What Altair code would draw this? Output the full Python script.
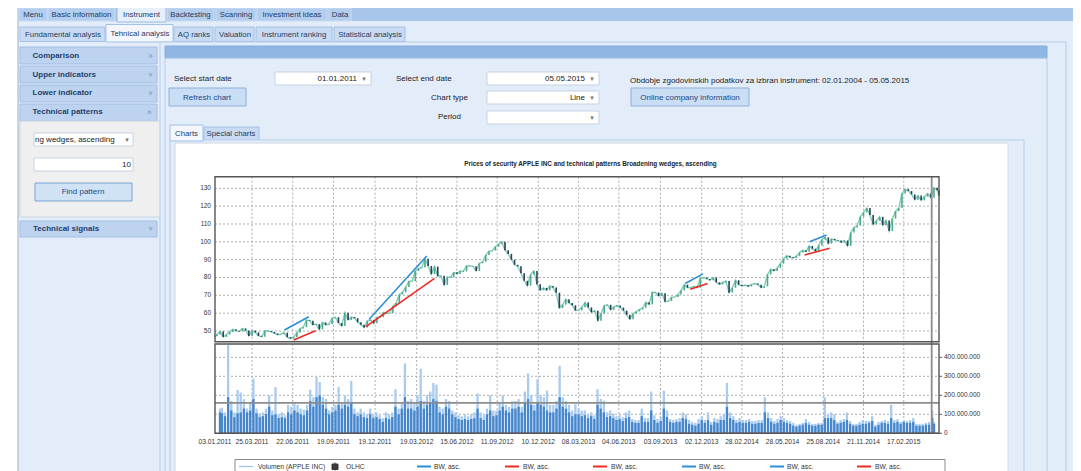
import altair as alt
import pandas as pd

M = 8  # page margin: screen pixel -> chart pixel

# ---------------- chart data ----------------
first_day, last_day = "2011-01-03", "2015-05-05"
first_close, last_close = 47.08, 125.80
close_2011 = [48.02, 49.78, 46.67, 48.01, 49.50, 50.98, 50.08, 49.74,
              51.43, 50.28, 47.24, 50.22, 49.22, 47.26, 46.79, 50.10, 50.01,
              49.52, 48.64, 47.89, 48.20, 49.06, 46.56, 45.75, 46.62,
              49.04, 51.39, 52.13, 56.19, 55.78, 53.37, 53.86, 50.86, 54.80,
              53.44, 53.93, 57.21, 57.71, 54.47, 52.83, 60.29, 56.12, 57.85,
              57.18, 54.95, 53.56, 51.94, 55.67, 56.23, 54.29, 57.63, 57.86]
close_2012 = [60.34, 59.97, 60.04, 63.90, 65.67, 70.49, 71.73, 74.63,
              77.88, 77.88, 83.65, 85.15, 85.65, 90.53, 86.46, 81.85, 86.14,
              80.75, 80.96, 75.77, 80.33, 80.14, 82.90, 82.02, 83.68, 83.43,
              86.55, 86.42, 86.33, 83.59, 87.96, 88.81, 92.59, 94.75, 95.03,
              97.21, 98.75, 100.01, 95.30, 93.23, 89.96, 87.12, 86.29,
              82.40, 78.15, 75.38, 81.64, 83.61, 76.18, 72.83, 74.19, 72.80]
close_2013 = [75.29, 74.33, 71.43, 62.84, 64.80, 67.85, 65.74, 64.40,
              61.50, 61.67, 63.38, 65.99, 63.24, 60.46, 61.40, 55.79, 59.60,
              64.28, 64.71, 61.89, 63.59, 64.25, 63.12, 61.44, 59.07, 56.65,
              59.63, 60.93, 62.01, 63.00, 66.08, 64.92, 71.76, 71.57, 69.60,
              71.17, 66.41, 66.77, 68.96, 69.00, 70.40, 72.70, 75.99,
              74.29, 74.37, 75.00, 74.26, 79.44, 80.00, 79.20, 78.43, 80.01]
close_2014 = [77.28, 76.13, 77.24, 78.01, 71.51, 74.24, 78.44, 75.93, 75.18,
              75.78, 74.96, 76.12, 76.69, 75.97, 74.23, 74.99, 81.71,
              84.65, 83.65, 85.36, 87.73, 90.43, 92.22, 91.28, 90.91, 91.98,
              94.03, 95.22, 94.43, 97.67, 96.13, 94.74, 97.98, 101.32, 102.50,
              98.97, 101.66, 100.96, 100.75, 99.62, 100.73, 97.67, 105.22, 108.00,
              109.01, 114.18, 116.47, 118.93, 115.00, 109.73, 111.78, 113.99]
close_2015 = [109.33, 112.01, 105.99, 112.98, 117.16, 118.93, 127.08, 129.50, 128.46,
              126.60, 123.59, 125.90, 123.25, 125.32, 127.10, 124.75, 130.28, 128.95]

# weekly volume in millions: typical day (dark) and busiest day (light)
first_vol, first_peak = 110, 130
last_vol, last_peak = 50, 60
vol_2011 = [105, 90, 190, 120, 85, 105, 110, 130, 110, 120, 180, 105, 85, 90, 100, 140, 95,
            100, 80, 85, 80, 110, 100, 120, 110, 100, 95, 120, 170, 140, 190, 200, 150, 130,
            100, 110, 120, 150, 130, 150, 140, 160, 100, 90, 100, 85, 80, 100, 80, 85, 75, 60]
peak_2011 = [135, 110, 465, 170, 110, 228, 214, 180, 130, 160, 288, 130, 105, 110, 130, 200, 120,
             244, 100, 110, 95, 150, 140, 160, 150, 130, 125, 150, 230, 190, 298, 270, 190, 180,
             120, 140, 150, 244, 160, 200, 180, 276, 130, 110, 130, 110, 100, 130, 100, 110, 95, 80]
vol_2012 = [80, 75, 85, 140, 100, 130, 190, 130, 130, 120, 140, 170, 130, 150, 160, 180, 170,
            110, 100, 140, 130, 100, 85, 75, 70, 75, 70, 75, 80, 130, 80, 70, 100, 120, 90,
            95, 120, 140, 120, 110, 130, 130, 140, 110, 160, 180, 150, 120, 160, 150, 140, 120]
peak_2012 = [110, 100, 110, 232, 130, 160, 368, 170, 180, 160, 200, 340, 170, 200, 220, 265, 256,
             140, 130, 180, 170, 120, 110, 95, 90, 100, 90, 100, 110, 210, 110, 95, 130, 200, 120,
             120, 165, 200, 150, 140, 170, 170, 180, 140, 220, 315, 200, 150, 286, 200, 190, 224]
vol_2013 = [110, 110, 130, 190, 140, 130, 110, 90, 100, 100, 90, 95, 80, 90, 75, 150, 130,
            110, 85, 90, 80, 70, 75, 65, 80, 85, 60, 55, 55, 90, 60, 60, 120, 70, 55,
            65, 130, 85, 60, 55, 60, 60, 80, 75, 50, 45, 40, 50, 70, 55, 70, 45]
peak_2013 = [150, 150, 170, 355, 190, 170, 150, 120, 153, 130, 120, 120, 100, 110, 95, 232, 180,
             172, 110, 120, 105, 90, 95, 85, 110, 120, 75, 70, 70, 130, 80, 80, 220, 95, 75,
             85, 224, 120, 75, 70, 75, 80, 110, 100, 70, 60, 55, 75, 90, 70, 110, 60]
vol_2014 = [60, 55, 70, 70, 140, 80, 70, 55, 60, 55, 55, 60, 50, 50, 55, 55, 110,
            80, 60, 50, 55, 70, 60, 55, 50, 40, 35, 40, 45, 55, 45, 40, 40, 45, 45,
            80, 80, 80, 70, 50, 55, 60, 70, 50, 40, 40, 45, 50, 50, 55, 65, 35]
peak_2014 = [80, 75, 90, 100, 265, 110, 90, 70, 80, 70, 70, 75, 65, 65, 70, 70, 190,
             110, 80, 65, 75, 90, 80, 70, 65, 55, 45, 50, 55, 75, 60, 50, 50, 55, 55,
             190, 100, 110, 100, 60, 70, 75, 110, 65, 50, 50, 60, 70, 65, 65, 90, 45]
vol_2015 = [45, 55, 55, 50, 80, 55, 60, 50, 60, 55, 55, 60, 40, 40, 40, 45, 45, 80]
peak_2015 = [60, 65, 70, 65, 150, 70, 75, 60, 70, 65, 70, 80, 50, 50, 50, 55, 60, 118]

date_labels = ["03.01.2011", "25.03.2011", "22.06.2011", "19.09.2011", "19.12.2011",
               "19.03.2012", "15.06.2012", "11.09.2012", "10.12.2012", "08.03.2013",
               "04.06.2013", "03.09.2013", "02.12.2013", "28.02.2014", "28.05.2014",
               "25.08.2014", "21.11.2014", "17.02.2015"]
price_ticks = [50, 60, 70, 80, 90, 100, 110, 120, 130]
volume_ticks = [0, 100, 200, 300, 400]  # millions

wedge_id = [1, 1, 1, 1, 2, 2, 2, 2, 3, 3, 3, 3, 4, 4, 4, 4]
wedge_side = ["upper", "upper", "lower", "lower"] * 4
wedge_date = ["2011-06-04", "2011-07-27", "2011-06-24", "2011-08-11",
              "2011-12-06", "2012-04-10", "2011-11-29", "2012-04-27",
              "2013-10-27", "2013-12-05", "2013-11-07", "2013-12-15",
              "2014-07-26", "2014-09-01", "2014-07-15", "2014-09-08"]
wedge_price = [50.6, 58.0, 44.95, 50.2, 56.6, 92.0, 52.4, 79.5,
               76.6, 82.0, 73.4, 76.6, 100.1, 103.8, 92.6, 96.4]

cursor_date = "2015-04-19"
cursor_volume = 160

title = "Prices of security APPLE INC and technical patterns Broadening wedges, ascending"
legend_labels = ["Volumen (APPLE INC)", "OLHC", "BW, asc.", "BW, asc.", "BW, asc.",
                 "BW, asc.", "BW, asc.", "BW, asc."]

# ---------------- tables ----------------
fridays = pd.date_range("2011-01-07", "2015-05-01", freq="W-FRI").strftime("%Y-%m-%d").tolist()
dates = [first_day] + fridays + [last_day]
closes = [first_close] + close_2011 + close_2012 + close_2013 + close_2014 + close_2015 + [last_close]
vols = [first_vol] + vol_2011 + vol_2012 + vol_2013 + vol_2014 + vol_2015 + [last_vol]
peaks = [first_peak] + peak_2011 + peak_2012 + peak_2013 + peak_2014 + peak_2015 + [last_peak]
assert len(dates) == len(closes) == len(vols) == len(peaks), (len(dates), len(closes), len(vols), len(peaks))

prices = pd.DataFrame({"date": dates, "close": closes, "vol": vols, "peak": peaks})
prices["open"] = prices["close"].shift(1).fillna(46.6)
prices["dir"] = ["up" if c >= o else "down" for c, o in zip(prices["close"], prices["open"])]

wedges = pd.DataFrame({"id": wedge_id, "side": wedge_side, "date": wedge_date, "price": wedge_price})
label_df = pd.DataFrame({"label": date_labels})
label_df["date"] = pd.to_datetime(label_df["label"], format="%d.%m.%Y").dt.strftime("%Y-%m-%d")
grid_dates = label_df.iloc[1:].reset_index(drop=True)
ptick_df = pd.DataFrame({"v": price_ticks})
vtick_df = pd.DataFrame({"v": volume_ticks})
vtick_df["label"] = [f"{v * 1_000_000:,}".replace(",", ".") for v in volume_ticks]

# ---------------- scales (pixel ranges inside the page) ----------------
X0, X1 = 215, 939
PY0, PY1 = 341.7, 176.7
VY0, VY1 = 433.3, 344.0
xs = alt.Scale(type="utc", nice=False,
               domain=[alt.DateTime(year=2011, month=1, date=3, utc=True),
                       alt.DateTime(year=2015, month=5, date=5, utc=True)],
               range=[X0 - M, X1 - M])
ps = alt.Scale(domain=[44, 136.5], range=[PY0 - M, PY1 - M], nice=False, zero=False)
vs = alt.Scale(domain=[0, 470], range=[VY0 - M, VY1 - M], nice=False, zero=False)

def XT(field="date"):
    return alt.X(f"{field}:T", scale=xs, axis=None)

def P(field):
    return alt.Y(f"{field}:Q", scale=ps, axis=None)

def V(field):
    return alt.Y(f"{field}:Q", scale=vs, axis=None)

FONT = "Liberation Sans"

def rect_layer(rows, width=1):
    df = pd.DataFrame(rows, columns=["x", "y", "x2", "y2", "fill", "stroke"])
    for c in ["x", "x2", "y", "y2"]:
        df[c] = df[c] - M
    return alt.Chart(df).mark_rect(strokeWidth=width).encode(
        x=alt.X("x:Q", scale=None, axis=None), x2="x2:Q",
        y=alt.Y("y:Q", scale=None, axis=None), y2="y2:Q",
        fill=alt.Fill("fill:N", scale=None, legend=None),
        stroke=alt.Stroke("stroke:N", scale=None, legend=None))

def rule_layer(rows):
    df = pd.DataFrame(rows, columns=["x", "y", "x2", "y2", "color", "w"])
    for c in ["x", "x2", "y", "y2"]:
        df[c] = df[c] - M
    return alt.Chart(df).mark_rule().encode(
        x=alt.X("x:Q", scale=None, axis=None), x2="x2:Q",
        y=alt.Y("y:Q", scale=None, axis=None), y2="y2:Q",
        color=alt.Color("color:N", scale=None, legend=None),
        size=alt.Size("w:Q", scale=None, legend=None))

def text_layers(rows, font=FONT, angle=0):
    df = pd.DataFrame(rows, columns=["x", "y", "text", "size", "color", "align", "bold"])
    df["x"] = df["x"] - M
    df["y"] = df["y"] - M
    out = []
    for (al, b), g in df.groupby(["align", "bold"]):
        out.append(alt.Chart(g.reset_index(drop=True)).mark_text(
            align=al, baseline="middle", font=font, angle=angle,
            fontWeight="bold" if b else "normal").encode(
            x=alt.X("x:Q", scale=None, axis=None), y=alt.Y("y:Q", scale=None, axis=None),
            text="text:N",
            size=alt.Size("size:Q", scale=None, legend=None),
            color=alt.Color("color:N", scale=None, legend=None)))
    return out

# ---------------- application chrome ----------------
TAB, TABB = "#b3cdee", "#cadbf2"
TAB2, TAB2B = "#c9dbf2", "#a3c0e5"
HDR, HDRB = "#bdd3ef", "#a3bfe4"
BG, BORD = "#e3edf9", "#b5cdea"
BOX, BOXB = "#ffffff", "#c6d3e3"
BTN, BTNB = "#c9ddf5", "#8eb0d9"
ui_rects = [
    (18, 6, 1077, 480, BG, "#9fb0c4"),
    (18, 6, 1077, 21, "#a8c6ea", "transparent"),
    (19, 8, 47, 21, TAB, TABB), (48, 8, 115, 21, TAB, TABB),
    (117, 6, 166, 22, "#e6effa", "#9dbbe2"),
    (167, 8, 214, 21, TAB, TABB), (216, 8, 256, 21, TAB, TABB),
    (257, 8, 327, 21, TAB, TABB), (329, 8, 351, 21, TAB, TABB),
    (20, 27, 105, 41.5, TAB2, TAB2B), (174, 27, 213, 41.5, TAB2, TAB2B),
    (215, 27, 254, 41.5, TAB2, TAB2B), (256, 27, 332, 41.5, TAB2, TAB2B),
    (334, 27, 405, 41.5, TAB2, TAB2B),
    (106, 24.5, 173, 42, "#f3f7fd", TAB2B),
    (20, 47, 157, 64, HDR, HDRB), (20, 66, 157, 83, HDR, HDRB),
    (20, 85, 157, 102, HDR, HDRB), (20, 104, 157, 121, HDR, HDRB),
    (20, 121, 162, 217, "#efefef", "#c9d5e4"),
    (34, 133, 133, 146, BOX, BOXB), (34, 158, 133, 171, BOX, BOXB),
    (35, 183, 132, 201, "#cfe2f6", "#7ca3d3"),
    (20, 221, 157, 237, HDR, HDRB),
    (160, 42, 1066, 480, BG, BORD),
    (165, 46, 1047, 58, "#90b6e4", "#84abdc"),
    (165, 58, 1047, 480, "transparent", BORD),
    (275, 72, 371, 85, BOX, BOXB), (169, 88, 246, 106, BTN, BTNB),
    (487, 72, 599, 85, BOX, BOXB), (487, 91, 599, 104, BOX, BOXB),
    (487, 111, 599, 124, BOX, BOXB), (631, 88, 749, 106, BTN, BTNB),
    (204, 127, 259, 141, TAB2, TAB2B),
    (170, 140, 1024, 480, BG, BORD),
    (170, 125, 203, 141, "#f3f7fd", TAB2B),
    (175, 143, 1008, 480, "#ffffff", "#cfd8e3"),
    (235, 459.5, 945, 480, "#ffffff", "#8a8a8a"),
]

NAVY = "#1f3b63"
DARK = "#222222"
ui_texts = [
    (33, 14.5, "Menu", 7.8, NAVY, "center", False),
    (81.5, 14.5, "Basic information", 7.8, NAVY, "center", False),
    (141.5, 14.5, "Instrument", 7.8, NAVY, "center", False),
    (190.5, 14.5, "Backtesting", 7.8, NAVY, "center", False),
    (236, 14.5, "Scanning", 7.8, NAVY, "center", False),
    (292, 14.5, "Investment ideas", 7.8, NAVY, "center", False),
    (340, 14.5, "Data", 7.8, NAVY, "center", False),
    (63, 35, "Fundamental analysis", 7.8, NAVY, "center", False),
    (140, 34, "Tehnical analysis", 7.8, NAVY, "center", False),
    (194, 35, "AQ ranks", 7.8, NAVY, "center", False),
    (235, 35, "Valuation", 7.8, NAVY, "center", False),
    (294, 35, "Instrument ranking", 7.8, NAVY, "center", False),
    (370, 35, "Statistical analysis", 7.8, NAVY, "center", False),
    (32.5, 56, "Comparison", 8, "#23416d", "left", True),
    (32.5, 74.7, "Upper indicators", 8, "#23416d", "left", True),
    (32.5, 93.3, "Lower indicator", 8, "#23416d", "left", True),
    (32.5, 112.3, "Technical patterns", 8, "#23416d", "left", True),
    (33, 228.5, "Technical signals", 8, "#23416d", "left", True),
    (35, 140, "ng wedges, ascending", 8, DARK, "left", False),
    (131, 164.5, "10", 8, DARK, "right", False),
    (83, 192, "Find pattern", 8, "#24497e", "center", False),
    (174, 79, "Select start date", 8, DARK, "left", False),
    (357, 78.5, "01.01.2011", 8, DARK, "right", False),
    (207, 97.5, "Refresh chart", 8, "#24497e", "center", False),
    (396, 79, "Select end date", 8, DARK, "left", False),
    (585, 78.5, "05.05.2015", 8, DARK, "right", False),
    (468, 98.3, "Chart type", 8, DARK, "right", False),
    (585, 97.8, "Line", 8, DARK, "right", False),
    (461, 117.3, "Period", 8, DARK, "right", False),
    (630, 80.5, "Obdobje zgodovinskih podatkov za izbran instrument: 02.01.2004 - 05.05.2015",
     8, DARK, "left", False),
    (690, 97.5, "Online company information", 8, "#24497e", "center", False),
    (186.5, 133.5, "Charts", 7.8, NAVY, "center", False),
    (231, 134, "Special charts", 7.8, NAVY, "center", False),
    (590.5, 164, title, 6.3, DARK, "center", True),
]
arrows = [(364, 78.5, "▾", 7, "#777777", "center", False),
          (592, 78.5, "▾", 7, "#777777", "center", False),
          (592, 97.8, "▾", 7, "#777777", "center", False),
          (592, 117.5, "▾", 7, "#777777", "center", False),
          (127, 140, "▾", 7, "#777777", "center", False)]
chev_down = [(150, 56, "»", 8, "#7a90b0", "center", False),
             (150, 74.7, "»", 8, "#7a90b0", "center", False),
             (150, 93.3, "»", 8, "#7a90b0", "center", False),
             (150, 228.5, "»", 8, "#7a90b0", "center", False)]
chev_up = [(150, 112.3, "»", 8, "#7a90b0", "center", False)]

# ---------------- legend (drawn as in the program) ----------------
BLUE, RED = "#2b8fd6", "#ee2a24"
legend_rules = [
    (239, 466.5, 253, 466.5, "#9cc3ea", 1.2),
    (417, 466.5, 431, 466.5, BLUE, 2), (505, 466.5, 519, 466.5, RED, 2),
    (593, 466.5, 607, 466.5, RED, 2), (682, 466.5, 696, 466.5, BLUE, 2),
    (770, 466.5, 784, 466.5, BLUE, 2), (857, 466.5, 871, 466.5, RED, 2),
    (335, 462.5, 335, 470.5, "#333333", 1),
]
legend_rects = [(332, 464, 338, 469.5, "#3a3a3a", "#3a3a3a")]
legend_x = [258, 346, 434, 523, 611, 699, 787, 875]
legend_texts = [(x, 466.7, t, 6.7, "#333333", "left", False) for x, t in zip(legend_x, legend_labels)]

# ---------------- chart layers ----------------
GRID = "#9a9a9a"
layers = [rect_layer(ui_rects)]

layers.append(alt.Chart(ptick_df).mark_rule(strokeDash=[2, 2], color=GRID, strokeWidth=0.8).encode(
    y=P("v"), x=alt.value(X0 - M), x2=alt.value(X1 - M)))
layers.append(alt.Chart(vtick_df[vtick_df.v > 0]).mark_rule(strokeDash=[2, 2], color=GRID, strokeWidth=0.8).encode(
    y=V("v"), x=alt.value(X0 - M), x2=alt.value(X1 - M)))
layers.append(alt.Chart(grid_dates).mark_rule(strokeDash=[2, 2], color=GRID, strokeWidth=0.8).encode(
    x=XT(), y=alt.value(PY1 - M), y2=alt.value(PY0 - M)))
layers.append(alt.Chart(grid_dates).mark_rule(strokeDash=[2, 2], color=GRID, strokeWidth=0.8).encode(
    x=XT(), y=alt.value(VY1 - M), y2=alt.value(VY0 - M)))

# volume
layers.append(alt.Chart(prices).mark_bar(width=2.3, color="#a9cbee").encode(x=XT(), y=V("peak")))
layers.append(alt.Chart(prices).mark_bar(width=2.3, color="#4586cc").encode(x=XT(), y=V("vol")))
layers.append(alt.Chart(prices.iloc[2:]).mark_line(color="#9e2a2e", strokeWidth=1).encode(
    x=XT(), y=alt.Y("zero:Q", scale=vs, axis=None)).transform_calculate(zero="0"))

# prices
layers.append(alt.Chart(prices).mark_line(color="#7fd0b4", strokeWidth=1.4).encode(x=XT(), y=P("close")))
layers.append(alt.Chart(prices).mark_rule(strokeWidth=1.6).encode(
    x=XT(), y=P("open"), y2="close:Q",
    color=alt.Color("dir:N", scale=alt.Scale(domain=["up", "down"], range=["#4fa98e", "#2a3c60"]), legend=None)))

# broadening wedges
layers.append(alt.Chart(wedges).mark_line(strokeWidth=1.6).encode(
    x=XT(), y=P("price"), detail="id:N",
    color=alt.Color("side:N", scale=alt.Scale(domain=["upper", "lower"], range=[BLUE, RED]), legend=None)))

# cursor cross
cur = pd.DataFrame({"date": [cursor_date], "vol": [cursor_volume]})
layers.append(alt.Chart(cur).mark_rule(color="#8c8c8c", strokeWidth=1.8).encode(
    x=XT(), y=alt.value(PY1 - M), y2=alt.value(VY0 - M)))
layers.append(alt.Chart(cur).mark_rule(color="#8c8c8c", strokeWidth=1.8).encode(
    y=V("vol"), x=alt.value(X0 - M), x2=alt.value(X1 - M)))

# panel frames
layers.append(rect_layer([(X0, PY1, X1, PY0, "transparent", "#555555"),
                          (X0, VY1, X1, VY0, "transparent", "#555555")], width=1.4))

# tick labels
layers.append(alt.Chart(ptick_df).mark_text(align="right", baseline="middle", font=FONT,
                                            fontSize=6.5, color="#333333").encode(
    y=P("v"), x=alt.value(211 - M), text="v:Q"))
layers.append(alt.Chart(vtick_df).mark_text(align="left", baseline="middle", font=FONT,
                                            fontSize=6.5, color="#333333").encode(
    y=V("v"), x=alt.value(944 - M), text="label:N"))
layers.append(alt.Chart(vtick_df).mark_rule(color="#555555", strokeWidth=1).encode(
    y=V("v"), x=alt.value(X1 - M), x2=alt.value(X1 + 3 - M)))
layers.append(alt.Chart(label_df).mark_text(align="center", baseline="middle", font=FONT,
                                            fontSize=6.7, color="#333333").encode(
    x=XT(), y=alt.value(441.7 - M), text="label:N"))

# texts of the program window
layers += text_layers(ui_texts)
layers += text_layers(arrows, font="DejaVu Sans")
layers += text_layers(chev_down, font="DejaVu Sans", angle=90)
layers += text_layers(chev_up, font="DejaVu Sans", angle=270)
layers.append(rule_layer(legend_rules))
layers.append(rect_layer(legend_rects))
layers += text_layers(legend_texts)

chart = alt.layer(*layers).properties(
    width=1065, height=463, padding=0, background="#ffffff",
    autosize=alt.AutoSizeParams(type="none"),
).resolve_scale(
    x="independent", y="independent", color="independent",
    fill="independent", stroke="independent", size="independent",
).configure_view(stroke=None)

chart.save("out.html", embed_options={"renderer": "svg", "actions": False})
